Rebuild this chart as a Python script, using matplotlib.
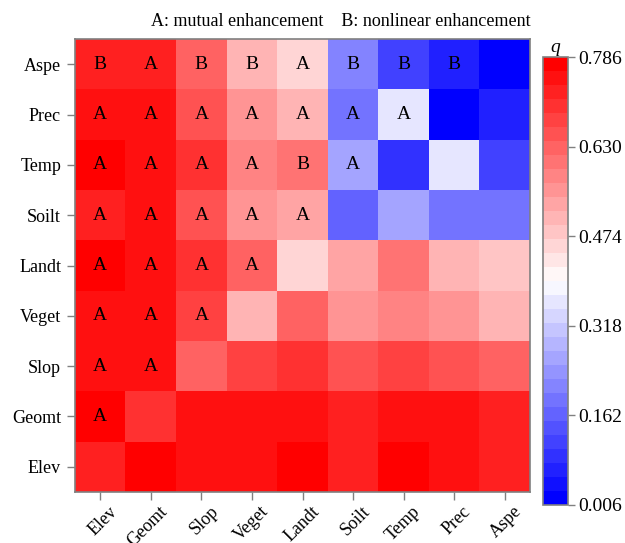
import matplotlib.pyplot as plt
import matplotlib.transforms as mtransforms
import numpy as np

plt.rcParams['font.family'] = ['Liberation Serif', 'DejaVu Serif']

factors = ["Elev", "Geomt", "Slop", "Veget", "Landt", "Soilt", "Temp", "Prec", "Aspe"]
row_labels = ["Aspe", "Prec", "Temp", "Soilt", "Landt", "Veget", "Slop", "Geomt", "Elev"]

# q values, rows top to bottom, columns left to right
q_aspe = [0.731, 0.731, 0.630, 0.494, 0.466, 0.201, 0.113, 0.061, 0.006]
q_prec = [0.755, 0.755, 0.653, 0.552, 0.505, 0.197, 0.349, 0.022, 0.061]
q_temp = [0.786, 0.755, 0.692, 0.579, 0.611, 0.271, 0.084, 0.349, 0.107]
q_soilt = [0.731, 0.739, 0.653, 0.552, 0.529, 0.162, 0.271, 0.197, 0.197]
q_landt = [0.786, 0.755, 0.708, 0.622, 0.466, 0.529, 0.603, 0.497, 0.474]
q_veget = [0.755, 0.755, 0.677, 0.497, 0.630, 0.552, 0.572, 0.544, 0.497]
q_slop = [0.747, 0.747, 0.630, 0.685, 0.700, 0.646, 0.677, 0.661, 0.630]
q_geomt = [0.770, 0.700, 0.747, 0.747, 0.747, 0.731, 0.747, 0.739, 0.724]
q_elev = [0.724, 0.786, 0.747, 0.747, 0.786, 0.724, 0.786, 0.747, 0.724]

# interaction type shown in the cells ("" = no label)
type_aspe = ["B", "A", "B", "B", "A", "B", "B", "B", ""]
type_prec = ["A", "A", "A", "A", "A", "A", "A", "", ""]
type_temp = ["A", "A", "A", "A", "B", "A", "", "", ""]
type_soilt = ["A", "A", "A", "A", "A", "", "", "", ""]
type_landt = ["A", "A", "A", "A", "", "", "", "", ""]
type_veget = ["A", "A", "A", "", "", "", "", "", ""]
type_slop = ["A", "A", "", "", "", "", "", "", ""]
type_geomt = ["A", "", "", "", "", "", "", "", ""]
type_elev = ["", "", "", "", "", "", "", "", ""]

q = np.array([q_aspe, q_prec, q_temp, q_soilt, q_landt, q_veget, q_slop, q_geomt, q_elev])
types = [type_aspe, type_prec, type_temp, type_soilt, type_landt, type_veget,
         type_slop, type_geomt, type_elev]

q_min, q_max = 0.006, 0.786
cbar_ticks = [0.006, 0.162, 0.318, 0.474, 0.630, 0.786]

cmap = plt.get_cmap('bwr').resampled(32)
edge = '#808080'

fig = plt.figure(figsize=(6.25, 5.43), dpi=100)
ax = fig.add_axes([0.12, 0.094, 0.728, 0.834])
cax = fig.add_axes([0.869, 0.07, 0.04, 0.825])

im = ax.imshow(q, cmap=cmap, vmin=q_min, vmax=q_max, aspect='auto',
               interpolation='nearest')

for i, row in enumerate(types):
    for j, t in enumerate(row):
        if t:
            ax.text(j, i, t, ha='center', va='center', fontsize=14, color='black')

ax.set_xticks(range(len(factors)))
ax.set_xticklabels(factors, rotation=45, ha='right', va='top',
                   rotation_mode='anchor', fontsize=13)
ax.set_yticks(range(len(row_labels)))
ax.set_yticklabels(row_labels, fontsize=13)
ax.tick_params(axis='both', direction='out', length=6, width=1, color=edge, pad=4)
ax.tick_params(axis='x', pad=2)
shift = mtransforms.ScaledTranslation(6 / 72, 0, fig.dpi_scale_trans)
for lab in ax.get_xticklabels():
    lab.set_transform(lab.get_transform() + shift)
for s in ax.spines.values():
    s.set_color(edge)
    s.set_linewidth(1.2)

cb = fig.colorbar(im, cax=cax)
cb.set_ticks(cbar_ticks)
cb.set_ticklabels([f"{v:.3f}" for v in cbar_ticks])
cb.ax.tick_params(direction='out', length=5, width=1, color=edge, labelsize=14, pad=2)
cb.outline.set_edgecolor(edge)
cb.outline.set_linewidth(1.2)

fig.text(0.888, 0.905, 'q', style='italic', fontsize=14, ha='center')
fig.text(0.546, 0.96, 'A: mutual enhancement    B: nonlinear enhancement',
         ha='center', va='center', fontsize=13)

fig.savefig('out.png', dpi=100)
